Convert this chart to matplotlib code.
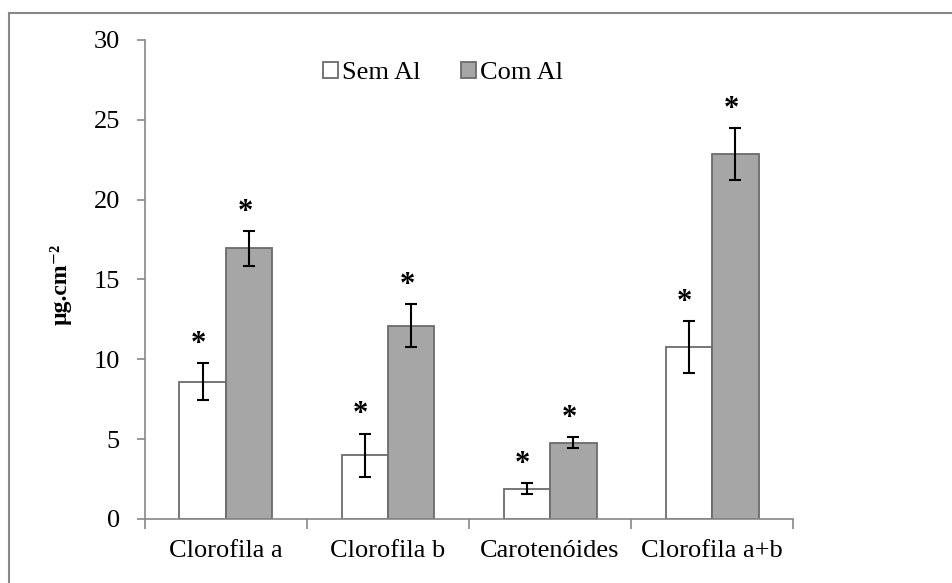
import matplotlib.pyplot as plt
from matplotlib.patches import Rectangle
import numpy as np

plt.rcParams['font.family'] = ['Liberation Serif', 'DejaVu Serif']

# data
categorias = ['Clorofila a', 'Clorofila b', 'Carotenóides', 'Clorofila a+b']
sem_al = [8.6, 4.0, 1.9, 10.75]
sem_al_err = [1.15, 1.35, 0.35, 1.62]
com_al = [16.95, 12.1, 4.78, 22.85]
com_al_err = [1.1, 1.35, 0.33, 1.62]
yticks = [0, 5, 10, 15, 20, 25, 30]

fig = plt.figure(figsize=(9.52, 5.83), dpi=100)
ax = fig.add_axes([0.1523, 0.1098, 0.833 - 0.1523, 0.9314 - 0.1098])

# outer chart frame (Excel style)
fig.patches.append(Rectangle((9 / 952, -0.1), 1.2, 1 - 13 / 583 + 0.1,
                             transform=fig.transFigure, fill=False,
                             edgecolor='#878787', lw=1.5))

x = np.arange(len(categorias))
w = 0.287
edge = '#6b6b6b'

ax.bar(x - w / 2, sem_al, w, color='white', edgecolor=edge, lw=1.3,
       label='Sem Al', zorder=2)
ax.bar(x + w / 2, com_al, w, color='#a6a6a6', edgecolor=edge, lw=1.3,
       label='Com Al', zorder=2)
ax.errorbar(x - w / 2, sem_al, yerr=sem_al_err, fmt='none', ecolor='black',
            elinewidth=1.5, capsize=4, capthick=1.5, zorder=3)
ax.errorbar(x + w / 2, com_al, yerr=com_al_err, fmt='none', ecolor='black',
            elinewidth=1.5, capsize=4, capthick=1.5, zorder=3)

# asterisks above the error bars
for xs, vals, errs in [(x - w / 2, sem_al, sem_al_err),
                       (x + w / 2, com_al, com_al_err)]:
    for xi, v, e in zip(xs, vals, errs):
        ax.annotate('*', (xi, v + e), xytext=(-3, 3), textcoords='offset points',
                    ha='center', va='bottom', fontsize=22, fontweight='bold')

ax.set_xlim(-0.5, len(categorias) - 0.5)
ax.set_ylim(0, 30)
ax.set_yticks(yticks)
ax.set_xticks(np.arange(len(categorias) + 1) - 0.5)
ax.set_xticklabels([])
ax.set_xticks(x, minor=True)
ax.set_xticklabels(categorias, minor=True)
ax.tick_params(axis='x', which='major', length=7, width=1.2, color='#878787')
ax.tick_params(axis='x', which='minor', length=0, pad=15, labelsize=19)
ax.tick_params(axis='y', length=6, width=1.2, color='#878787', pad=12,
               labelsize=19)

for s in ['top', 'right']:
    ax.spines[s].set_visible(False)
for s in ['left', 'bottom']:
    ax.spines[s].set_color('#878787')
    ax.spines[s].set_linewidth(1.2)

ax.set_ylabel('µg.cm⁻²', fontsize=17, fontweight='bold')
ax.yaxis.set_label_coords(-0.113, 0.49)

leg = ax.legend(loc='center', bbox_to_anchor=(443 / 952, 1 - 73 / 583),
                bbox_transform=fig.transFigure, ncol=2, frameon=False,
                fontsize=19, handlelength=0.6, handleheight=0.6,
                handletextpad=0.15, columnspacing=1.5)

fig.savefig('out.png', dpi=100)
